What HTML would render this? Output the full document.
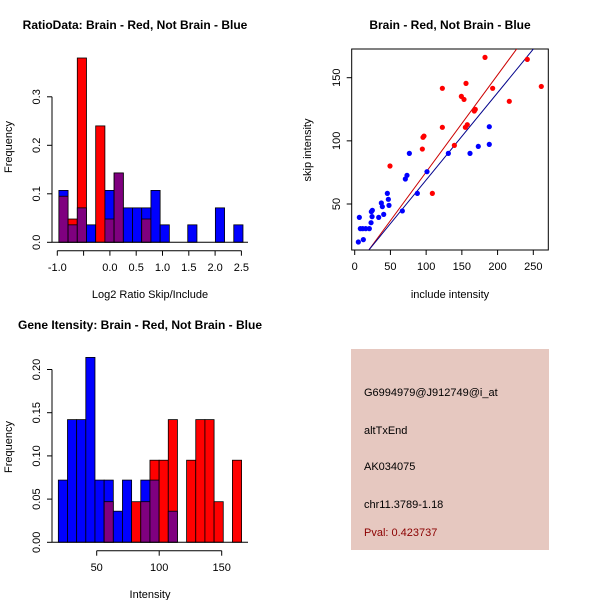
<!DOCTYPE html>
<html><head><meta charset="utf-8"><style>
body{margin:0;background:#fff;font-family:"Liberation Sans",sans-serif;}
svg text{font-family:"Liberation Sans",sans-serif;}
</style></head><body>
<svg id="s" width="600" height="600" xmlns="http://www.w3.org/2000/svg">
<text x="135" y="29" font-size="12" font-weight="bold" text-anchor="middle">RatioData: Brain - Red, Not Brain - Blue</text>
<text x="450" y="29" font-size="12" font-weight="bold" text-anchor="middle">Brain - Red, Not Brain - Blue</text>
<text x="140" y="329" font-size="12" font-weight="bold" text-anchor="middle">Gene Itensity: Brain - Red, Not Brain - Blue</text>
<text x="150" y="298" font-size="11" text-anchor="middle">Log2 Ratio Skip/Include</text>
<text x="12" y="147" font-size="11" text-anchor="middle" transform="rotate(-90 12 147)">Frequency</text>
<text x="450" y="298" font-size="11" text-anchor="middle">include intensity</text>
<text x="311" y="150" font-size="11" text-anchor="middle" transform="rotate(-90 311 150)">skip intensity</text>
<text x="150" y="598" font-size="11" text-anchor="middle">Intensity</text>
<text x="12" y="447" font-size="11" text-anchor="middle" transform="rotate(-90 12 447)">Frequency</text>
<rect x="351" y="349" width="198" height="201" fill="#E6C8C0"/>
<text x="364" y="396" font-size="11">G6994979@J912749@i_at</text>
<text x="364" y="434" font-size="11">altTxEnd</text>
<text x="364" y="470" font-size="11">AK034075</text>
<text x="364" y="508" font-size="11">chr11.3789-1.18</text>
<text x="364" y="536" font-size="11" fill="#8B0000">Pval: 0.423737</text>
<g id="g"></g>
</svg>
<script>
// Ratio histogram data
const ratioStart = -0.97, ratioBin = 0.175;
const ratioBlue = [0.107,0.036,0.071,0.036,0,0.107,0.143,0.071,0.071,0.071,0.107,0.036,0,0,0.036,0,0,0.071,0,0.036];
const ratioRed  = [0.095,0.048,0.38,0,0.24,0.048,0.143,0,0,0.048,0,0,0,0,0,0,0,0,0,0];
const ratioXTicks = [-1.0,-0.5,0.0,0.5,1.0,1.5,2.0,2.5];
const ratioXLabels = ["-1.0","","0.0","0.5","1.0","1.5","2.0","2.5"];
const ratioYTicks = [0,0.1,0.2,0.3];
const ratioYLabels = ["0.0","0.1","0.2","0.3"];
// Intensity histogram data
const intStart = 19.3, intBin = 7.33;
const intBlue = [0.072,0.142,0.142,0.214,0.072,0.072,0.036,0.072,0,0.072,0.072,0,0.036,0,0,0,0,0,0,0];
const intRed  = [0,0,0,0,0,0.047,0,0,0.047,0.047,0.095,0.095,0.142,0,0.095,0.142,0.142,0.047,0,0.095];
const intXTicks = [50,100,150];
const intYTicks = [0,0.05,0.10,0.15,0.20];
const intYLabels = ["0.00","0.05","0.10","0.15","0.20"];
// Scatter data
const redX = [49.4,182.4,122.7,155.8,149.3,153,193.1,216.4,241.6,261.2,167.4,168.8,122.7,154.9,157.6,97,95.6,94.7,139.5,108.7];
const redY = [80.1,166.1,141.6,145.5,135.2,132.8,141.6,131.3,164.5,143.1,123.6,124.9,110.7,110.7,112.8,103.8,102.8,93.5,96.4,58.4];
const blueX = [6.5,5.1,12.1,7.9,11.2,15.4,20.5,22.9,23.3,24.7,24.3,33.6,37.3,38.7,40.6,45.7,47.1,48,66.7,70.9,73.2,76.5,101.2,87.7,131.1,161.4,173,188.4,188.4];
const blueY = [39.4,19.9,21.8,30.5,30.5,30.5,30.5,35.2,43.9,45,40,39.4,50.8,47.9,41.8,58.4,53.7,48.9,44.5,69.8,72.7,90.1,75.6,58.4,90.1,90.1,95.6,111.2,97.2];
const redLine = [-1.6,0.769];
const blueLine = [-0.1,0.691];
const scXTicks = [0,50,100,150,200,250];
const scYTicks = [50,100,150];

const NS="http://www.w3.org/2000/svg", G=document.getElementById('g');
function mk(t,a){const e=document.createElementNS(NS,t);for(const k in a)e.setAttribute(k,a[k]);G.appendChild(e);return e;}
function line(x1,y1,x2,y2,nm,c){const e=mk('line',{x1,y1,x2,y2,stroke:c||'#000','stroke-width':1});

return e;}
function txt(x,y,s,nm,rot){const e=mk('text',{x,y,'font-size':11,'text-anchor':'middle'});e.textContent=s;
if(rot)e.setAttribute('transform','rotate(-90 '+x+' '+y+')');

return e;}

function hist(start,bw,blue,red,xs,ys,nmPre){
  for(let i=0;i<blue.length;i++){
    const b=blue[i],r=red[i],x0=xs(start+i*bw),x1=xs(start+(i+1)*bw);
    const mx=Math.max(b,r),mn=Math.min(b,r);
    if(mx>0){const e=mk('rect',{x:x0,y:ys(mx),width:x1-x0,height:ys(0)-ys(mx),fill:b>=r?'#0000FF':'#FF0000',stroke:'#000','stroke-width':0.8});
      
      }
    if(mn>0){const e=mk('rect',{x:x0,y:ys(mn),width:x1-x0,height:ys(0)-ys(mn),fill:'#7F007F',stroke:'#000','stroke-width':0.8});
      
      }
  }
}
// Ratio histogram
{const xs=v=>57.3+(v+1)*52.6, ys=v=>242.3-v*485;
 hist(ratioStart,ratioBin,ratioBlue,ratioRed,xs,ys,'ratio');
 line(52,242.3,248,242.3,'ratio-baseline');
 line(xs(-1),250.7,xs(2.5),250.7,'ratio-x-axis');
 ratioXTicks.forEach((t,i)=>{line(xs(t),250.7,xs(t),255.7,'ratio-x-tick');if(ratioXLabels[i])txt(xs(t),271,ratioXLabels[i],'ratio-x-label');});
 line(52,ys(0),52,ys(0.3),'ratio-y-axis');
 ratioYTicks.forEach((t,i)=>{line(47,ys(t),52,ys(t),'ratio-y-tick');txt(40,ys(t),ratioYLabels[i],'ratio-y-label',true);});
}
// Intensity histogram
{const xs=v=>96.7+(v-50)*1.25, ys=v=>542.3-v*864;
 hist(intStart,intBin,intBlue,intRed,xs,ys,'intensity');
 line(52,542.3,248,542.3,'intensity-baseline');
 line(xs(50),550.7,xs(150),550.7,'intensity-x-axis');
 intXTicks.forEach(t=>{line(xs(t),550.7,xs(t),555.7,'intensity-x-tick');txt(xs(t),571,String(t),'intensity-x-label');});
 line(52,ys(0),52,ys(0.2),'intensity-y-axis');
 intYTicks.forEach((t,i)=>{line(47,ys(t),52,ys(t),'intensity-y-tick');txt(40,ys(t),intYLabels[i],'intensity-y-label',true);});
}
// Scatter
{const xs=v=>354.7+v*0.7144, ys=v=>204-(v-50)*1.263;
 const cp=document.createElementNS(NS,'clipPath');cp.setAttribute('id','cp');
 const cr=document.createElementNS(NS,'rect');cr.setAttribute('x',351.7);cr.setAttribute('y',49);cr.setAttribute('width',196.6);cr.setAttribute('height',201);
 cp.appendChild(cr);G.appendChild(cp);
 const fr=mk('rect',{x:351.7,y:49,width:196.6,height:201,fill:'none',stroke:'#000','stroke-width':1});
 
 
 [[redLine,'#CC0000','red-fit-line'],[blueLine,'#00008B','blue-fit-line']].forEach(([l,c,nm])=>{
   const e=line(xs(0),ys(l[0]),xs(300),ys(l[0]+l[1]*300),nm,c);e.setAttribute('clip-path','url(#cp)');});
 redX.forEach((x,i)=>{const e=mk('circle',{cx:xs(x),cy:ys(redY[i]),r:2.6,fill:'#FF0000'});
   
   });
 blueX.forEach((x,i)=>{const e=mk('circle',{cx:xs(x),cy:ys(blueY[i]),r:2.6,fill:'#0000FF'});
   
   });
 scXTicks.forEach(t=>{line(xs(t),250,xs(t),255,'scatter-x-tick');txt(xs(t),270,String(t),'scatter-x-label');});
 scYTicks.forEach(t=>{line(346.7,ys(t),351.7,ys(t),'scatter-y-tick');txt(340,ys(t),String(t),'scatter-y-label',true);});
}
</script>
</body></html>
